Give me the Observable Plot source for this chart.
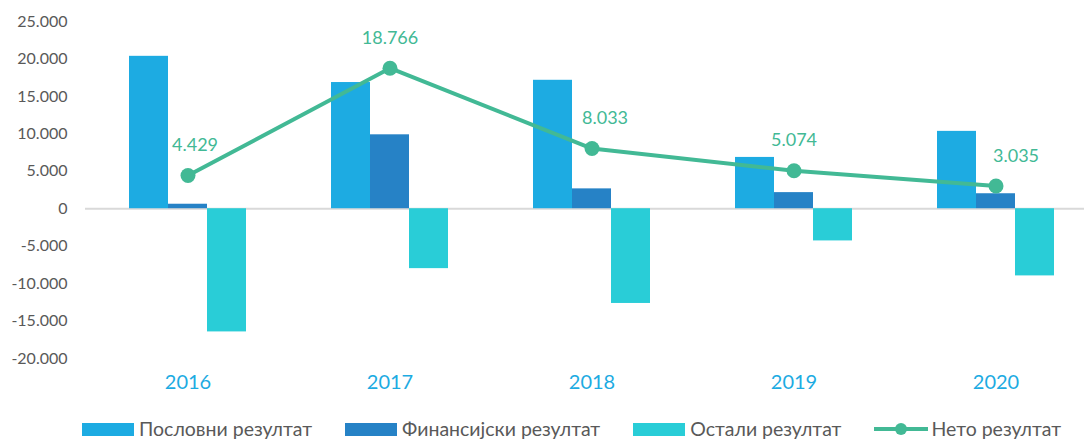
<!DOCTYPE html>
<html>
<head>
<meta charset="utf-8">
<script src="https://cdn.jsdelivr.net/npm/d3@7"></script>
<script src="https://cdn.jsdelivr.net/npm/@observablehq/plot@0.6"></script>
<style>
  html, body { margin: 0; padding: 0; background: #fff; overflow: hidden; }
  #wrap { position: relative; width: 1084px; height: 441px; }
  #legend { position: absolute; left: 82px; top: 419px; display: flex; align-items: center; gap: 33px;
            font-family: Lato, "Open Sans", sans-serif; font-size: 19.5px; color: #595959; white-space: nowrap; line-height: 20px; }
  .item { display: flex; align-items: center; gap: 5px; }
  .sw { width: 52px; height: 13px; display: inline-block; }
</style>
</head>
<body>
<div id="wrap">
  <div id="chart"></div>
  <div id="legend"></div>
</div>
<script>
const years = ["2016", "2017", "2018", "2019", "2020"];
const poslovni = [20350, 16850, 17150, 6850, 10330];
const finansijski = [600, 9870, 2650, 2150, 2000];
const ostali = [-16450, -8000, -12650, -4300, -8970];
const neto = [4429, 18766, 8033, 5074, 3035];
const yTicks = [-20000, -15000, -10000, -5000, 0, 5000, 10000, 15000, 20000, 25000];
const seriesNames = ["Пословни резултат", "Финансијски резултат", "Остали резултат", "Нето резултат"];

const colors = ["#1DABE2", "#2682C6", "#29CDD7", "#42B995"];
const labelDx = [7, 0, 13, 0, 20];

const loc = d3.formatLocale({decimal: ",", thousands: ".", grouping: [3], currency: ["", ""], minus: "-"});
const fmt = loc.format(",d");

const table = years.map((year, i) => ({
  year, posl: poslovni[i], fin: finansijski[i], ost: ostali[i], neto: neto[i]
}));

const labelMarks = table.map((d, i) =>
  Plot.text([d], {x: "year", y: "neto", text: d => fmt(d.neto), dy: -30, dx: labelDx[i],
    fill: colors[3], fontSize: 18, fontFamily: "Lato"}));

const chart = Plot.plot({
  width: 1084,
  height: 400,
  marginLeft: 85,
  marginRight: 0,
  marginTop: 21,
  marginBottom: 42,
  style: {fontFamily: "Lato, 'Open Sans', sans-serif", background: "#fff"},
  x: {type: "band", domain: years, range: [85, 1098], paddingInner: 0.807, paddingOuter: 0.4035, axis: null},
  y: {domain: [-20000, 25000], axis: null},
  marks: [
    Plot.axisY(yTicks, {tickSize: 0, tickPadding: 18, tickFormat: fmt, fontSize: 16, fill: "#595959", label: null}),
    Plot.axisX(years, {tickSize: 0, tickPadding: 16, fontSize: 20, fill: "#1DABE2", label: null}),
    Plot.ruleY([0], {stroke: "#D9D9D9", strokeWidth: 2}),
    Plot.barY(table, {x: "year", y: "posl", fill: colors[0], dx: -39}),
    Plot.barY(table, {x: "year", y: "fin", fill: colors[1]}),
    Plot.barY(table, {x: "year", y: "ost", fill: colors[2], dx: 39}),
    Plot.line(table, {x: "year", y: "neto", stroke: colors[3], strokeWidth: 4}),
    Plot.dot(table, {x: "year", y: "neto", r: 7.5, fill: colors[3]}),
    ...labelMarks
  ]
});
document.getElementById("chart").appendChild(chart);

const legend = document.getElementById("legend");
seriesNames.forEach((name, i) => {
  const item = document.createElement("div");
  item.className = "item";
  if (i < 3) {
    item.innerHTML = `<span class="sw" style="background:${colors[i]}"></span><span>${name}</span>`;
  } else {
    item.innerHTML = `<svg width="54" height="14"><line x1="0" x2="54" y1="7" y2="7" stroke="${colors[3]}" stroke-width="4"/><circle cx="27" cy="7" r="6" fill="${colors[3]}"/></svg><span style="margin-left:-2px">${name}</span>`;
  }
  legend.appendChild(item);
});
</script>
</body>
</html>
